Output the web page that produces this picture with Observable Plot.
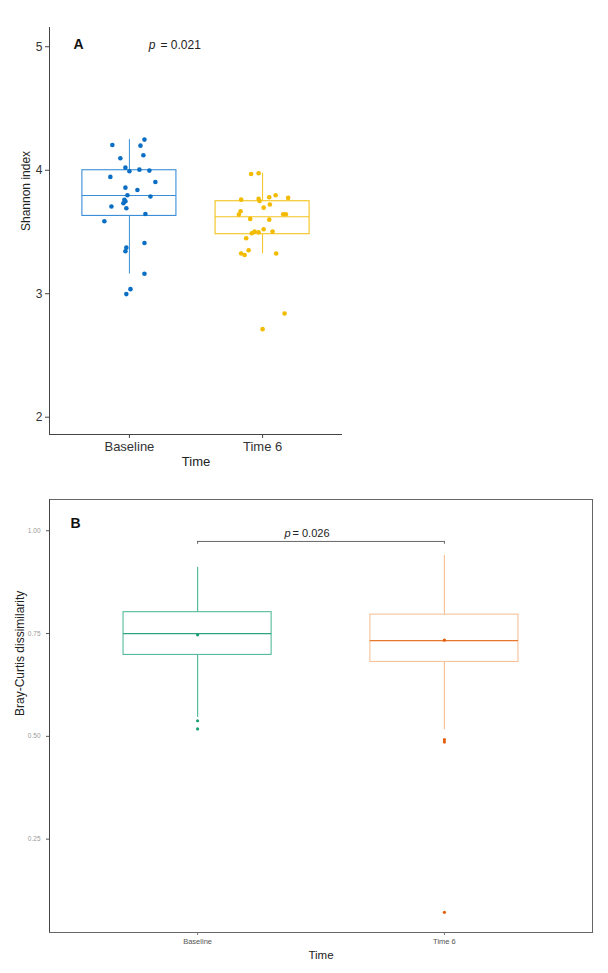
<!DOCTYPE html>
<html>
<head>
<meta charset="utf-8">
<script src="https://cdn.jsdelivr.net/npm/d3@7"></script>
<script src="https://cdn.jsdelivr.net/npm/@observablehq/plot@0.6"></script>
<style>
  html, body { margin: 0; padding: 0; background: #fff; }
  #chart svg { display: block; }
</style>
</head>
<body>
<div id="chart"></div>
<script>
// ---------- data ----------
const groups = ["Baseline", "Time 6"];

// Panel A: Shannon index, individual samples (jitter = horizontal offset in category units)
const shannonBaseline = [4.248, 4.205, 4.199, 4.097, 4.121, 4.021, 3.992, 4.005, 3.997, 3.946, 3.905, 3.859, 3.840, 3.798, 3.787, 3.760, 3.749, 3.733, 3.706, 3.692, 3.646, 3.587, 3.373, 3.344, 3.411, 3.162, 3.037, 2.997];
const jitterBaseline  = [0.113, -0.128, 0.083, -0.068, 0.105, -0.030, 0.000, 0.075, 0.150, -0.143, 0.195, -0.030, 0.060, -0.015, 0.158, -0.038, -0.030, -0.045, -0.135, -0.023, 0.120, -0.188, -0.023, -0.030, 0.113, 0.113, 0.008, -0.023];
const shannonTime6 = [3.970, 3.976, 3.762, 3.768, 3.751, 3.781, 3.798, 3.776, 3.722, 3.697, 3.668, 3.641, 3.644, 3.644, 3.606, 3.600, 3.490, 3.503, 3.497, 3.522, 3.503, 3.449, 3.326, 3.314, 3.352, 3.326, 2.840, 2.713];
const jitterTime6  = [-0.086, -0.030, -0.161, -0.030, -0.023, 0.050, 0.098, 0.192, 0.055, 0.008, -0.165, -0.178, 0.155, 0.175, -0.093, 0.050, -0.081, -0.060, -0.030, 0.008, 0.075, -0.123, -0.161, -0.135, -0.105, 0.102, 0.165, 0.000];
// Panel A box statistics
const shannonLower  = [3.160, 3.323];
const shannonQ1     = [3.630, 3.482];
const shannonMedian = [3.795, 3.624];
const shannonQ3     = [4.000, 3.749];
const shannonUpper  = [4.248, 3.976];
const pValueA = "0.021";

// Panel B: Bray-Curtis dissimilarity box statistics
const brayLower  = [0.546, 0.516];
const brayQ1     = [0.698, 0.681];
const brayMedian = [0.750, 0.733];
const brayQ3     = [0.802, 0.796];
const brayUpper  = [0.911, 0.940];
const brayMean   = [0.747, 0.734];
const brayOutliersBaseline = [0.538, 0.518];
const brayOutliersTime6    = [0.492, 0.486, 0.072];
const pValueB = "0.026";
const bracketLevel = 0.974;

// ---------- tables ----------
const boxesA = groups.map((g, i) => ({g, i: i + 1, lo: shannonLower[i], q1: shannonQ1[i], med: shannonMedian[i], q3: shannonQ3[i], hi: shannonUpper[i]}));
const boxesB = groups.map((g, i) => ({g, i: i + 1, lo: brayLower[i], q1: brayQ1[i], med: brayMedian[i], q3: brayQ3[i], hi: brayUpper[i], mean: brayMean[i]}));
const pointsA = [
  ...shannonBaseline.map((v, k) => ({g: groups[0], i: 1, v, j: jitterBaseline[k]})),
  ...shannonTime6.map((v, k) => ({g: groups[1], i: 2, v, j: jitterTime6[k]}))
];
const outliersB = [
  ...brayOutliersBaseline.map(v => ({g: groups[0], i: 1, v})),
  ...brayOutliersTime6.map(v => ({g: groups[1], i: 2, v}))
];

// ---------- styles ----------
const font = "'Liberation Sans', Arial, sans-serif";
const colA = {box: ["#3a8ed6", "#f4c31c"], pt: ["#0a6fc4", "#f2bb00"]};
const colB = {box: ["#55bb9c", "#f6c29a"], med: ["#2fa27f", "#e8772c"], pt: ["#1b9e77", "#e0600e"]};
const halfA = 0.353, halfB = 0.30;

// ---------- panel A ----------
const plotA = Plot.plot({
  width: 608, height: 480,
  marginLeft: 49, marginRight: 266, marginTop: 27, marginBottom: 46,
  style: {fontFamily: font, background: "white"},
  x: {type: "linear", domain: [0.4, 2.6]},
  y: {domain: [1.86, 5.156]},
  marks: [
    Plot.ruleX([0.4], {stroke: "#444", strokeWidth: 1}),
    Plot.ruleY([1.86], {stroke: "#444", strokeWidth: 1}),
    Plot.axisY({ticks: [2, 3, 4, 5], tickSize: 4, tickPadding: 3, fontSize: 12, stroke: "#444", fill: "#333", label: null, tickFormat: d3.format("d")}),
    Plot.axisX({ticks: [1, 2], tickSize: 4, tickPadding: 3, fontSize: 13, stroke: "#444", fill: "#333", label: null, tickFormat: d => groups[d - 1]}),
    // whiskers
    Plot.ruleX(boxesA, {x: "i", y1: "q3", y2: "hi", stroke: (d, k) => colA.box[k], strokeWidth: 1}),
    Plot.ruleX(boxesA, {x: "i", y1: "lo", y2: "q1", stroke: (d, k) => colA.box[k], strokeWidth: 1}),
    // boxes
    Plot.rect(boxesA, {x1: d => d.i - halfA, x2: d => d.i + halfA, y1: "q1", y2: "q3", fill: "white", stroke: (d, k) => colA.box[k], strokeWidth: 1.1}),
    Plot.ruleY(boxesA, {y: "med", x1: d => d.i - halfA, x2: d => d.i + halfA, stroke: (d, k) => colA.box[k], strokeWidth: 1.1}),
    // jittered samples
    Plot.dot(pointsA, {x: d => d.i + d.j, y: "v", r: 2.3, fill: d => colA.pt[d.i - 1], stroke: "none"}),
    // annotations
    Plot.text(["A"], {frameAnchor: "top-left", dx: 24, dy: 21, lineAnchor: "bottom", textAnchor: "start", fontSize: 14, fontWeight: "bold", fill: "#111"}),
    Plot.text(["p"], {frameAnchor: "top-left", dx: 106, dy: 21, lineAnchor: "bottom", textAnchor: "end", fontSize: 12, fontStyle: "italic", fill: "#222"}),
    Plot.text([`= ${pValueA}`], {frameAnchor: "top-left", dx: 111, dy: 21, lineAnchor: "bottom", textAnchor: "start", fontSize: 12, fill: "#222"}),
    // axis titles
    Plot.text(["Time"], {frameAnchor: "bottom", dy: 31, lineAnchor: "bottom", fontSize: 13, fill: "#222"}),
    Plot.text(["Shannon index"], {frameAnchor: "left", dx: -23, rotate: -90, fontSize: 12, fill: "#222"})
  ]
});

// ---------- panel B ----------
const plotB = Plot.plot({
  width: 608, height: 493,
  marginLeft: 49, marginRight: 16, marginTop: 19, marginBottom: 41,
  style: {fontFamily: font, background: "white"},
  x: {type: "linear", domain: [0.4, 2.6]},
  y: {domain: [0.023, 1.076]},
  marks: [
    Plot.frame({stroke: "#666", strokeWidth: 1}),
    Plot.ruleX([0.4], {stroke: "#444", strokeWidth: 1}),
    Plot.axisY({ticks: [0.25, 0.5, 0.75, 1.0], tickSize: 3, tickPadding: 6, fontSize: 6.5, stroke: "#555", fill: "#999", label: null, tickFormat: d3.format(".2f")}),
    Plot.axisX({ticks: [1, 2], tickSize: 3, tickPadding: 3, fontSize: 7.5, stroke: "#777", fill: "#555", label: null, tickFormat: d => groups[d - 1]}),
    // significance bracket
    Plot.ruleY([bracketLevel], {x1: 1, x2: 2, stroke: "#666", strokeWidth: 1}),
    Plot.ruleX([1, 2], {y1: bracketLevel - 0.007, y2: bracketLevel, stroke: "#666", strokeWidth: 1}),
    Plot.text(["p"], {frameAnchor: "top-left", dx: 241, dy: 37, lineAnchor: "bottom", textAnchor: "end", fontSize: 11, fontStyle: "italic", fill: "#222"}),
    Plot.text([`= ${pValueB}`], {frameAnchor: "top-left", dx: 243, dy: 37, lineAnchor: "bottom", textAnchor: "start", fontSize: 11, fill: "#222"}),
    // whiskers
    Plot.ruleX(boxesB, {x: "i", y1: "q3", y2: "hi", stroke: (d, k) => colB.box[k], strokeWidth: 1.2}),
    Plot.ruleX(boxesB, {x: "i", y1: "lo", y2: "q1", stroke: (d, k) => colB.box[k], strokeWidth: 1.2}),
    // boxes
    Plot.rect(boxesB, {x1: d => d.i - halfB, x2: d => d.i + halfB, y1: "q1", y2: "q3", fill: "white", stroke: (d, k) => colB.box[k], strokeWidth: 1.1}),
    Plot.ruleY(boxesB, {y: "med", x1: d => d.i - halfB, x2: d => d.i + halfB, stroke: (d, k) => colB.med[k], strokeWidth: 1.2}),
    // means and outliers
    Plot.dot(boxesB, {x: "i", y: "mean", r: 1.6, fill: (d, k) => colB.pt[k], stroke: "none"}),
    Plot.dot(outliersB, {x: "i", y: "v", r: 1.6, fill: d => colB.pt[d.i - 1], stroke: "none"}),
    // annotations
    Plot.text(["B"], {frameAnchor: "top-left", dx: 21, dy: 28, lineAnchor: "bottom", textAnchor: "start", fontSize: 14, fontWeight: "bold", fill: "#111"}),
    Plot.text(["Time"], {frameAnchor: "bottom", dy: 26, lineAnchor: "bottom", fontSize: 11.5, fill: "#222"}),
    Plot.text(["Bray-Curtis dissimilarity"], {frameAnchor: "left", dx: -29, rotate: -90, fontSize: 12, fill: "#222"})
  ]
});

const root = document.getElementById("chart");
root.append(plotA, plotB);
</script>
</body>
</html>
